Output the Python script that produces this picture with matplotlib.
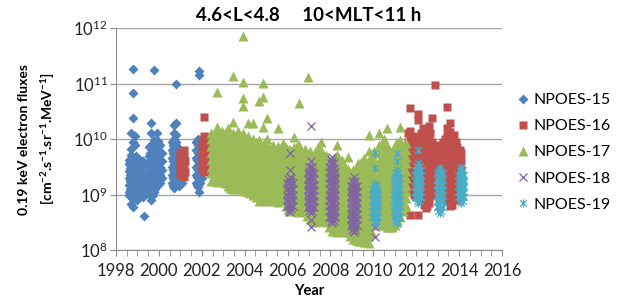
import matplotlib
matplotlib.use("Agg")
import matplotlib.pyplot as plt  # noqa: E402
from matplotlib.path import Path  # noqa: E402
from matplotlib.ticker import MultipleLocator, LogLocator, NullLocator  # noqa: E402

plt.rcParams["font.family"] = ["Lato", "DejaVu Sans"]
plt.rcParams["mathtext.fontset"] = "custom"
plt.rcParams["mathtext.rm"] = "Lato"
plt.rcParams["mathtext.bf"] = "Lato:bold"

# columns of (year, [log10 flux, ...])
n15 = [
    (1998.62, [9.05, 9.18, 9.3, 9.42, 9.55, 9.62, 9.0]),
    (1998.67, [8.98, 9.1, 9.24, 9.36, 9.48, 9.58]),
    (1998.72, [8.83, 8.95, 9.1, 9.22, 9.35, 9.48, 9.6, 9.72, 9.82, 10.1]),
    (1998.78, [11.26, 10.83, 10.38, 9.95, 9.5, 9.2, 8.92, 8.77]),
    (1998.88, [8.95, 9.05, 9.17, 9.3, 9.4, 9.52, 9.65, 9.9, 10.05]),
    (1998.94, [9.0, 9.1, 9.22, 9.34, 9.46, 9.58, 9.7]),
    (1999.0, [8.9, 9.02, 9.14, 9.26, 9.38, 9.5, 9.6]),
    (1999.06, [8.95, 9.08, 9.2, 9.32, 9.44, 9.56]),
    (1999.12, [9.0, 9.12, 9.25, 9.38, 9.5, 9.62]),
    (1999.18, [9.06, 9.18, 9.3, 9.42, 9.56]),
    (1999.25, [8.95, 9.05, 9.2, 9.35, 9.5, 9.6]),
    (1999.3, [8.61]),
    (1999.4, [9.08, 9.2, 9.35, 9.55]),
    (1999.55, [9.1, 9.25, 9.4, 9.55, 9.7, 9.85]),
    (1999.6, [9.0, 9.15, 9.3, 9.45, 9.6, 9.75]),
    (1999.65, [8.9, 9.0, 9.12, 9.25, 9.38, 9.5, 9.62, 9.75, 9.9, 10.1, 10.29]),
    (1999.72, [9.0, 9.14, 9.28, 9.42, 9.55, 9.68, 9.8, 9.92]),
    (1999.77, [11.24, 9.05, 9.2, 9.35, 9.48, 9.6, 9.72, 9.85, 9.98]),
    (1999.84, [9.1, 9.22, 9.38, 9.52, 9.64, 9.76, 9.9]),
    (1999.9, [9.15, 9.3, 9.45, 9.58, 9.7, 9.82, 9.95, 10.1]),
    (1999.97, [9.2, 9.38, 9.52, 9.66, 9.8, 9.96]),
    (2000.05, [9.2, 9.35, 9.5, 9.62, 9.75, 9.9]),
    (2000.15, [9.3, 9.45, 9.6, 9.75]),
    (2000.6, [9.2, 9.35, 9.5, 9.65, 9.8, 9.95]),
    (2000.66, [9.15, 9.3, 9.45, 9.6, 9.75, 9.9]),
    (2000.72, [9.12, 9.25, 9.4, 9.55, 9.7, 9.85, 10.0, 10.1, 10.25]),
    (2000.78, [9.2, 9.38, 9.52, 9.66, 9.8, 9.94]),
    (2000.82, [10.99, 9.18, 9.32, 9.45, 9.6, 9.75, 9.9, 10.07, 10.29]),
    (2000.88, [9.2, 9.38, 9.52, 9.68, 9.84]),
    (2000.95, [9.15, 9.3, 9.45, 9.6, 9.75]),
    (2001.1, [9.2, 9.4]),
    (2001.72, [9.2, 9.35, 9.5, 9.65, 9.8, 9.95]),
    (2001.77, [9.18, 9.32, 9.48, 9.62, 9.78, 9.92]),
    (2001.82, [9.14, 9.3, 9.45, 9.6, 9.75, 9.9, 10.0]),
    (2001.88, [11.22, 11.15, 9.05, 9.25, 9.4, 9.55, 9.7, 9.85]),
    (2001.94, [9.2, 9.35, 9.5, 9.65, 9.8]),
    (2002.0, [9.3, 9.5, 9.7, 9.9]),
]

n16 = [
    (2001.0, [9.35, 9.45, 9.55, 9.65, 9.75]),
    (2001.15, [9.32, 9.42, 9.52, 9.62, 9.72, 9.8]),
    (2001.22, [9.4, 9.6]),
    (2002.0, [9.45, 9.55, 9.65, 9.75, 9.85, 9.95]),
    (2002.12, [10.4, 9.4, 9.5, 9.6, 9.7, 9.8, 9.9, 10.0, 10.05]),
    (2002.28, [9.42, 9.55, 9.68, 9.8, 9.95, 10.03]),
    (2011.6, [10.1, 9.95, 9.8, 9.65, 9.5, 9.35, 9.2]),
    (2011.72, [10.56, 10.15, 10.0, 9.85, 9.7, 9.55, 9.4, 9.25, 9.1, 8.63]),
    (2011.8, [9.95, 9.8, 9.65, 9.5, 9.35, 9.2, 9.05]),
    (2011.9, [10.05, 9.9, 9.75, 9.6, 9.45, 9.3, 9.15, 9.0]),
    (2012.0, [10.0, 9.85, 9.7, 9.55, 9.4, 9.25, 9.1, 8.95]),
    (2012.1, [10.45, 10.34, 9.95, 9.8, 9.65, 9.5, 9.35, 9.2, 9.05, 8.63]),
    (2012.2, [10.1, 9.88, 9.72, 9.58, 9.42, 9.28, 9.12, 8.95]),
    (2012.3, [10.2, 10.07, 9.92, 9.78, 9.62, 9.48, 9.32, 9.18, 9.02, 8.88]),
    (2012.38, [10.02, 9.88, 9.72, 9.58, 9.42, 9.28, 9.12, 8.98, 8.82]),
    (2012.45, [10.1, 9.95, 9.8, 9.65, 9.5, 9.35, 9.2, 9.05, 8.9, 8.75]),
    (2012.52, [10.02, 9.88, 9.72, 9.58, 9.42, 9.28, 9.12, 8.98, 8.8]),
    (2012.58, [10.23, 10.05, 9.9, 9.75, 9.6, 9.45, 9.3, 9.15, 9.0, 8.85]),
    (2012.65, [10.1, 9.88, 9.72, 9.58, 9.42, 9.28, 9.12, 8.98]),
    (2012.72, [10.38, 9.95, 9.8, 9.65, 9.5, 9.35, 9.2, 9.05]),
    (2012.8, [9.9, 9.75, 9.6, 9.45, 9.3, 9.15, 9.0]),
    (2012.88, [10.97, 9.88, 9.72, 9.58, 9.42, 9.28, 9.12]),
    (2013.05, [9.9, 9.75, 9.6, 9.45, 9.3, 9.15]),
    (2013.15, [9.85, 9.7, 9.55, 9.4, 9.25, 9.1]),
    (2013.25, [9.95, 9.8, 9.65, 9.5, 9.35, 9.2, 9.05]),
    (2013.35, [10.0, 9.88, 9.72, 9.58, 9.42, 9.28, 9.12, 8.98]),
    (2013.45, [10.58, 10.2, 10.05, 9.9, 9.75, 9.6, 9.45, 9.3, 9.15, 9.0, 8.88]),
    (2013.52, [10.12, 9.98, 9.82, 9.68, 9.52, 9.38, 9.22, 9.08, 8.92]),
    (2013.58, [10.29, 10.12, 9.97, 9.82, 9.67, 9.52, 9.37, 9.22, 9.07, 8.92, 8.8]),
    (2013.67, [10.0, 9.85, 9.7, 9.55, 9.4, 9.25, 9.1, 8.95, 8.82]),
    (2013.75, [10.07, 9.92, 9.78, 9.63, 9.48, 9.33, 9.18, 9.03, 8.9]),
    (2013.84, [9.95, 9.8, 9.65, 9.5, 9.35, 9.2, 9.05, 8.9]),
    (2013.92, [9.85, 9.68, 9.55, 9.4, 9.25, 9.1, 8.95]),
    (2014.02, [9.8, 9.65, 9.5, 9.35, 9.2, 9.05, 8.92]),
    (2014.1, [9.75, 9.6, 9.45, 9.3, 9.15, 9.0]),
]

n17 = [
    (2002.45, [9.25, 9.38, 9.5, 9.62, 9.75, 9.88, 10.0, 10.1]),
    (2002.57, [9.3, 9.43, 9.56, 9.68, 9.8, 9.93, 10.05]),
    (2002.7, [9.22, 9.35, 9.47, 9.6, 9.72, 9.85, 9.97, 10.12, 10.22, 10.85]),
    (2002.82, [9.28, 9.4, 9.53, 9.66, 9.78, 9.9, 10.04]),
    (2002.95, [9.25, 9.37, 9.5, 9.63, 9.76, 9.88, 10.0, 10.15]),
    (2003.07, [9.2, 9.32, 9.45, 9.58, 9.7, 9.83, 9.96, 10.1]),
    (2003.2, [9.15, 9.28, 9.4, 9.53, 9.66, 9.78, 9.9, 10.05, 10.2]),
    (2003.32, [9.12, 9.25, 9.38, 9.5, 9.63, 9.76, 9.9, 10.02]),
    (2003.45, [9.1, 9.22, 9.35, 9.48, 9.6, 9.72, 9.85, 9.98, 10.1, 10.31, 11.14]),
    (2003.57, [9.15, 9.28, 9.42, 9.55, 9.68, 9.8, 9.93, 10.05]),
    (2003.7, [9.1, 9.23, 9.36, 9.5, 9.62, 9.75, 9.88, 10.0, 10.15]),
    (2003.8, [9.12, 9.25, 9.4, 9.52, 9.65, 9.78, 9.9, 10.04]),
    (2003.9, [9.08, 9.2, 9.33, 9.46, 9.58, 9.7, 9.83, 9.96, 10.1, 10.6, 10.74,
              11.03, 11.86]),
    (2004.02, [9.06, 9.2, 9.33, 9.46, 9.6, 9.72, 9.86, 10.0]),
    (2004.15, [9.05, 9.17, 9.3, 9.43, 9.55, 9.68, 9.8, 9.93, 10.05, 10.29]),
    (2004.27, [9.02, 9.15, 9.28, 9.4, 9.53, 9.66, 9.8, 9.93]),
    (2004.4, [9.0, 9.12, 9.25, 9.38, 9.5, 9.63, 9.75, 9.88, 10.0, 10.29]),
    (2004.52, [8.95, 9.08, 9.2, 9.33, 9.46, 9.58, 9.7, 9.83, 9.95]),
    (2004.65, [8.88, 9.0, 9.12, 9.25, 9.38, 9.5, 9.62, 9.75, 9.88, 9.98, 10.68]),
    (2004.75, [8.9, 9.05, 9.18, 9.3, 9.43, 9.56, 9.7, 9.83]),
    (2004.85, [8.9, 9.03, 9.15, 9.28, 9.4, 9.53, 9.65, 9.78, 9.9, 10.22, 10.76,
               11.01]),
    (2004.95, [8.92, 9.06, 9.2, 9.32, 9.45, 9.58, 9.7, 9.82, 9.95]),
    (2005.05, [8.88, 9.0, 9.13, 9.26, 9.38, 9.5, 9.63, 9.75, 9.88, 10.0, 10.38]),
    (2005.18, [8.9, 9.04, 9.18, 9.3, 9.42, 9.56, 9.7, 9.84]),
    (2005.3, [8.9, 9.02, 9.15, 9.28, 9.4, 9.52, 9.65, 9.78, 9.9]),
    (2005.42, [8.88, 9.05, 9.18, 9.3, 9.44, 9.56, 9.7, 9.82]),
    (2005.55, [8.87, 9.0, 9.12, 9.25, 9.38, 9.5, 9.62, 9.75, 9.88, 10.2]),
    (2005.68, [8.9, 9.05, 9.18, 9.32, 9.45, 9.58, 9.7, 9.84]),
    (2005.8, [8.9, 9.02, 9.15, 9.28, 9.4, 9.53, 9.66, 9.8, 9.92]),
    (2005.92, [8.8, 8.95, 9.08, 9.2, 9.34, 9.46, 9.6, 9.74, 9.86]),
    (2006.05, [8.7, 8.82, 8.95, 9.08, 9.2, 9.33, 9.46, 9.58, 9.7, 9.82]),
    (2006.18, [8.75, 8.88, 9.02, 9.15, 9.28, 9.4, 9.52, 9.65, 9.78]),
    (2006.3, [8.72, 8.85, 8.98, 9.1, 9.23, 9.36, 9.48, 9.6, 9.73, 9.86, 10.04]),
    (2006.42, [8.7, 8.84, 8.98, 9.1, 9.24, 9.36, 9.5, 9.62, 9.75, 9.88]),
    (2006.55, [8.68, 8.8, 8.93, 9.06, 9.18, 9.3, 9.43, 9.56, 9.68, 9.8, 9.9, 10.65]),
    (2006.68, [8.7, 8.85, 8.98, 9.12, 9.25, 9.38, 9.5, 9.62, 9.76]),
    (2006.8, [8.7, 8.83, 8.96, 9.08, 9.2, 9.33, 9.46, 9.58, 9.7, 9.82]),
    (2006.92, [8.62, 8.76, 8.9, 9.02, 9.15, 9.28, 9.4, 9.52, 9.66]),
    (2006.95, [11.12]),
    (2007.05, [8.55, 8.68, 8.8, 8.93, 9.06, 9.18, 9.3, 9.43, 9.56, 9.68, 9.78]),
    (2007.18, [8.52, 8.66, 8.8, 8.92, 9.05, 9.18, 9.3, 9.44, 9.56, 9.7]),
    (2007.3, [8.5, 8.62, 8.75, 8.88, 9.0, 9.13, 9.26, 9.38, 9.5, 9.63, 9.76]),
    (2007.42, [8.52, 8.66, 8.8, 8.93, 9.06, 9.2, 9.32, 9.45, 9.58, 9.7, 9.85]),
    (2007.55, [8.52, 8.65, 8.78, 8.9, 9.03, 9.16, 9.28, 9.4, 9.53, 9.66, 9.8, 9.95]),
    (2007.68, [8.52, 8.65, 8.8, 8.92, 9.05, 9.18, 9.3, 9.43, 9.56, 9.68]),
    (2007.8, [8.5, 8.63, 8.75, 8.88, 9.0, 9.13, 9.25, 9.38, 9.5, 9.62, 9.72]),
    (2007.92, [8.42, 8.56, 8.7, 8.82, 8.95, 9.08, 9.2, 9.34, 9.46, 9.58]),
    (2008.05, [8.35, 8.48, 8.6, 8.73, 8.86, 8.98, 9.1, 9.23, 9.36, 9.48, 9.6]),
    (2008.18, [8.35, 8.5, 8.62, 8.76, 8.9, 9.02, 9.15, 9.28, 9.4, 9.52, 9.65]),
    (2008.3, [8.32, 8.45, 8.58, 8.7, 8.83, 8.96, 9.08, 9.2, 9.33, 9.46, 9.58,
              9.72, 9.9]),
    (2008.42, [8.35, 8.48, 8.62, 8.75, 8.88, 9.0, 9.14, 9.26, 9.4, 9.52, 9.65]),
    (2008.55, [8.35, 8.48, 8.6, 8.72, 8.85, 8.98, 9.1, 9.23, 9.36, 9.48, 9.62]),
    (2008.68, [8.33, 8.46, 8.6, 8.72, 8.86, 9.0, 9.12, 9.25, 9.38, 9.5]),
    (2008.8, [8.32, 8.45, 8.58, 8.7, 8.83, 8.96, 9.08, 9.2, 9.33, 9.46, 9.68]),
    (2008.92, [8.25, 8.4, 8.52, 8.65, 8.78, 8.9, 9.03, 9.16, 9.28, 9.4]),
    (2009.05, [8.2, 8.32, 8.45, 8.58, 8.7, 8.83, 8.96, 9.08, 9.2, 9.33, 9.45]),
    (2009.18, [8.18, 8.32, 8.45, 8.58, 8.7, 8.84, 8.96, 9.1, 9.22, 9.35, 9.48]),
    (2009.3, [8.17, 8.3, 8.42, 8.55, 8.68, 8.8, 8.93, 9.06, 9.18, 9.3, 9.43, 9.57]),
    (2009.42, [8.16, 8.3, 8.44, 8.56, 8.7, 8.82, 8.96, 9.08, 9.22, 9.34, 9.46, 9.58]),
    (2009.55, [8.15, 8.28, 8.4, 8.53, 8.66, 8.78, 8.9, 9.03, 9.16, 9.28, 9.4,
               9.52, 9.65]),
    (2009.68, [8.14, 8.28, 8.4, 8.54, 8.66, 8.8, 8.92, 9.06, 9.18, 9.3, 9.44, 9.56]),
    (2009.8, [8.13, 8.25, 8.38, 8.5, 8.63, 8.76, 8.88, 9.0, 9.13, 9.26, 9.38,
              9.5, 9.62, 9.78, 10.07]),
    (2009.92, [8.3, 8.45, 8.58, 8.7, 8.84, 8.96, 9.1, 9.22, 9.35, 9.48, 9.6, 9.72]),
    (2010.05, [8.5, 8.62, 8.75, 8.88, 9.0, 9.13, 9.26, 9.38, 9.5, 9.63, 9.78]),
    (2010.25, [8.48, 8.6, 8.73, 8.86, 8.98, 9.1, 9.23, 9.36, 9.48, 9.6, 9.75,
               9.9, 10.1]),
    (2010.38, [8.45, 8.58, 8.72, 8.85, 8.98, 9.1, 9.24, 9.36, 9.5, 9.62, 9.76, 9.9]),
    (2010.5, [8.45, 8.58, 8.7, 8.83, 8.96, 9.08, 9.2, 9.33, 9.46, 9.58, 9.7,
              9.85, 10.0]),
    (2010.62, [8.42, 8.56, 8.7, 8.82, 8.95, 9.08, 9.2, 9.34, 9.46, 9.6, 9.72, 9.88]),
    (2010.65, [10.2]),
    (2010.75, [8.42, 8.55, 8.68, 8.8, 8.93, 9.06, 9.18, 9.3, 9.43, 9.56, 9.68, 9.82]),
    (2010.88, [8.42, 8.56, 8.7, 8.84, 8.96, 9.1, 9.22, 9.35, 9.48, 9.62, 9.76]),
    (2011.0, [8.45, 8.58, 8.7, 8.83, 8.96, 9.08, 9.2, 9.33, 9.46, 9.6, 9.75, 9.9]),
    (2011.12, [8.5, 8.64, 8.78, 8.9, 9.04, 9.16, 9.3, 9.42, 9.55, 9.68, 9.82, 9.95]),
    (2011.25, [8.6, 8.72, 8.85, 8.98, 9.1, 9.23, 9.36, 9.48, 9.6, 9.72, 9.85,
               9.98, 10.22]),
    (2011.38, [8.7, 8.84, 8.98, 9.1, 9.24, 9.36, 9.5, 9.62, 9.75, 9.88]),
    (2011.5, [8.8, 8.93, 9.06, 9.18, 9.3, 9.43, 9.56, 9.68, 9.8, 9.92]),
]

n18 = [
    (2005.96, [8.8, 8.9, 9.0, 9.1, 9.2]),
    (2006.03, [8.72, 8.8, 8.88, 8.96, 9.04, 9.12, 9.2, 9.28]),
    (2006.1, [8.69, 8.77, 8.85, 8.93, 9.01, 9.09, 9.17, 9.25, 9.32, 9.44, 9.75]),
    (2006.17, [8.74, 8.82, 8.9, 8.98, 9.06, 9.14, 9.22, 9.3]),
    (2006.24, [8.8, 8.9, 9.0, 9.1, 9.2]),
    (2006.94, [8.78, 8.88, 8.98, 9.08, 9.18, 9.28, 9.38]),
    (2007.01, [8.7, 8.78, 8.86, 8.94, 9.02, 9.1, 9.18, 9.26, 9.34, 9.42, 9.5]),
    (2007.08, [8.67, 8.75, 8.83, 8.91, 8.99, 9.07, 9.15, 9.23, 9.31, 9.39, 9.47,
               9.6, 10.23, 8.54, 8.41]),
    (2007.15, [8.7, 8.78, 8.86, 8.94, 9.02, 9.1, 9.18, 9.26, 9.34, 9.42, 9.5]),
    (2007.22, [8.78, 8.88, 8.98, 9.08, 9.18, 9.28, 9.38]),
    (2007.94, [8.6, 8.7, 8.8, 8.9, 9.0, 9.1, 9.2, 9.3, 9.4, 9.5]),
    (2008.01, [8.52, 8.6, 8.68, 8.76, 8.84, 8.92, 9.0, 9.08, 9.16, 9.24, 9.32,
               9.4, 9.48, 9.56, 9.64]),
    (2008.08, [8.49, 8.57, 8.65, 8.73, 8.81, 8.89, 8.97, 9.05, 9.13, 9.21, 9.29,
               9.37, 9.45, 9.53, 9.61, 9.68]),
    (2008.15, [8.52, 8.6, 8.68, 8.76, 8.84, 8.92, 9.0, 9.08, 9.16, 9.24, 9.32,
               9.4, 9.48, 9.56]),
    (2008.22, [8.6, 8.7, 8.8, 8.9, 9.0, 9.1, 9.2, 9.3, 9.4]),
    (2008.94, [8.45, 8.55, 8.65, 8.75, 8.85, 8.95, 9.05, 9.15]),
    (2009.01, [8.36, 8.44, 8.52, 8.6, 8.68, 8.76, 8.84, 8.92, 9.0, 9.08, 9.16, 9.24]),
    (2009.08, [8.33, 8.41, 8.49, 8.57, 8.65, 8.73, 8.81, 8.89, 8.97, 9.05, 9.13,
               9.21, 9.32]),
    (2009.15, [8.36, 8.44, 8.52, 8.6, 8.68, 8.76, 8.84, 8.92, 9.0, 9.08, 9.16, 9.24]),
    (2009.22, [8.45, 8.55, 8.65, 8.75, 8.85, 8.95, 9.05, 9.15]),
    (2010.1, [8.23, 8.41, 9.14]),
]

n19 = [
    (2009.96, [8.6, 8.7, 8.8, 8.9, 9.0, 9.1]),
    (2010.03, [8.52, 8.6, 8.68, 8.76, 8.84, 8.92, 9.0, 9.08, 9.16]),
    (2010.1, [8.49, 8.57, 8.65, 8.73, 8.81, 8.89, 8.97, 9.05, 9.13, 9.2, 9.48, 9.75]),
    (2010.17, [8.52, 8.6, 8.68, 8.76, 8.84, 8.92, 9.0, 9.08, 9.16]),
    (2010.24, [8.6, 8.7, 8.8, 8.9, 9.0, 9.1]),
    (2010.96, [8.6, 8.7, 8.8, 8.9, 9.0, 9.1, 9.2, 9.3]),
    (2011.03, [8.52, 8.6, 8.68, 8.76, 8.84, 8.92, 9.0, 9.08, 9.16, 9.24, 9.32, 9.4]),
    (2011.1, [8.49, 8.57, 8.65, 8.73, 8.81, 8.89, 8.97, 9.05, 9.13, 9.21, 9.29,
              9.37, 9.44, 9.6, 9.75]),
    (2011.17, [8.52, 8.6, 8.68, 8.76, 8.84, 8.92, 9.0, 9.08, 9.16, 9.24, 9.32, 9.4]),
    (2011.24, [8.6, 8.7, 8.8, 8.9, 9.0, 9.1, 9.2, 9.3]),
    (2011.96, [8.95, 9.05, 9.15, 9.25, 9.35, 9.45]),
    (2012.03, [8.88, 8.96, 9.04, 9.12, 9.2, 9.28, 9.36, 9.44, 9.52]),
    (2012.1, [8.85, 8.93, 9.01, 9.09, 9.17, 9.25, 9.33, 9.41, 9.49, 9.57, 9.8]),
    (2012.17, [8.88, 8.96, 9.04, 9.12, 9.2, 9.28, 9.36, 9.44, 9.52]),
    (2012.24, [8.95, 9.05, 9.15, 9.25, 9.35, 9.45]),
    (2012.96, [8.78, 8.88, 8.98, 9.08, 9.18, 9.28, 9.38]),
    (2013.03, [8.7, 8.78, 8.86, 8.94, 9.02, 9.1, 9.18, 9.26, 9.34, 9.42]),
    (2013.1, [8.67, 8.75, 8.83, 8.91, 8.99, 9.07, 9.15, 9.23, 9.31, 9.39, 9.48]),
    (2013.17, [8.7, 8.78, 8.86, 8.94, 9.02, 9.1, 9.18, 9.26, 9.34, 9.42]),
    (2013.24, [8.78, 8.88, 8.98, 9.08, 9.18, 9.28, 9.38]),
    (2013.96, [8.95, 9.05, 9.15, 9.25, 9.35]),
    (2014.03, [8.88, 8.96, 9.04, 9.12, 9.2, 9.28, 9.36, 9.44]),
    (2014.1, [8.85, 8.93, 9.01, 9.09, 9.17, 9.25, 9.33, 9.41, 9.5]),
    (2014.17, [8.88, 8.96, 9.04, 9.12, 9.2, 9.28, 9.36, 9.44]),
    (2014.24, [8.95, 9.05, 9.15, 9.25, 9.35]),
]

labels = ["NPOES-15", "NPOES-16", "NPOES-17", "NPOES-18", "NPOES-19"]
colors = ["#4F81BD", "#C0504D", "#9BBB59", "#8064A2", "#4BACC6"]

star = Path([(-1, -1), (1, 1), (-1, 1), (1, -1), (0, -1.25), (0, 1.25)],
            [Path.MOVETO, Path.LINETO, Path.MOVETO, Path.LINETO,
             Path.MOVETO, Path.LINETO])


def flat(cols):
    xs = [x for x, v in cols for _ in v]
    ys = [10 ** y for _, v in cols for y in v]
    return xs, ys


fig = plt.figure(figsize=(6.23, 2.98), dpi=100)
ax = fig.add_axes([0.1862, 0.161, 0.6196, 0.745])

styles = [
    dict(marker="D", ms=4.8, mec="none"),
    dict(marker="s", ms=5.8, mec="none"),
    dict(marker="^", ms=6.8, mec="none"),
    dict(marker="x", ms=5.6, mew=0.9, mfc="none"),
    dict(marker=star, ms=6.0, mew=0.9, mfc="none"),
]
for cols, lab, c, st in zip([n15, n16, n17, n18, n19], labels, colors, styles):
    xs, ys = flat(cols)
    kw = dict(st)
    if kw.get("mec") == "none":
        kw["mfc"] = c
    else:
        kw["mec"] = c
    ax.plot(xs, ys, ls="none", label=lab, **kw)

ax.set_yscale("log")
ax.set_ylim(1e8, 1e12)
ax.set_xlim(1998, 2016)
ax.yaxis.set_major_locator(LogLocator(base=10, numticks=10))
ax.yaxis.set_minor_locator(NullLocator())
ax.xaxis.set_major_locator(MultipleLocator(2))
ax.xaxis.set_minor_locator(MultipleLocator(0.5))
ax.grid(axis="y", color="#a6a6a6", lw=1.0)
ax.set_axisbelow(True)
for s in ["top", "right"]:
    ax.spines[s].set_visible(False)
for s in ["left", "bottom"]:
    ax.spines[s].set_color("#8c8c8c")
ax.tick_params(axis="both", which="both", color="#8c8c8c", length=4,
               labelsize=12, labelcolor="#222222")
ax.tick_params(axis="x", which="minor", length=4)
ax.tick_params(axis="x", pad=5)
ax.tick_params(axis="y", pad=2)

ax.set_title("4.6<L<4.8     10<MLT<11 h", fontsize=13.5, fontweight="bold", pad=5)
ax.set_xlabel("Year", fontsize=10.5, fontweight="bold", labelpad=4)
ax.set_ylabel("0.19 keV electron fluxes\n"
              r"[cm$^{\mathbf{-2}}$.s$^{\mathbf{-1}}$.sr$^{\mathbf{-1}}$.MeV$^{\mathbf{-1}}$]",
              fontsize=10, fontweight="bold", linespacing=1.6)
ax.yaxis.set_label_coords(-0.152, 0.5)

ax.legend(loc="center left", bbox_to_anchor=(1.0, 0.44), frameon=False,
          fontsize=11.5, handlelength=0.8, handletextpad=0.3, labelspacing=0.75,
          borderaxespad=0.5)

fig.savefig("out.png", dpi=100)
